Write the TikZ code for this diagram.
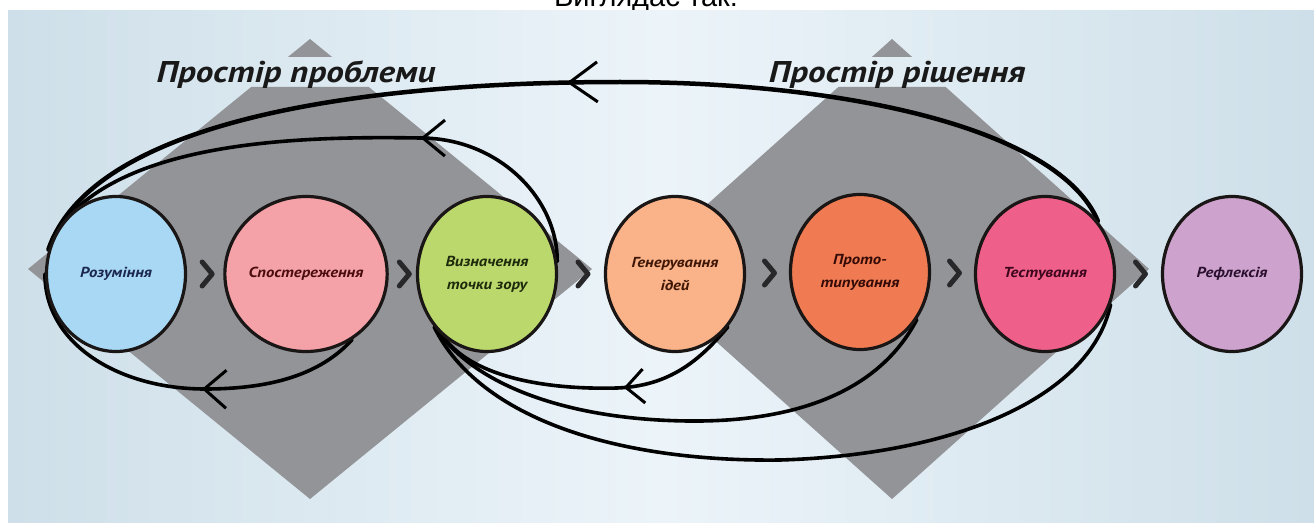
\documentclass[tikz,border=0pt]{standalone}
\usepackage{fontspec}
\usetikzlibrary{shapes.geometric,arrows.meta,decorations.markings,calc}
\newfontfamily\labelfont{PT Sans}[FakeStretch=1.15]
\newfontfamily\titlefont{PT Sans}[FakeStretch=1.17]
\newfontfamily\headfont{Liberation Sans}
\definecolor{panelside}{RGB}{206,223,233}
\definecolor{panelmid}{RGB}{236,244,249}
\definecolor{dgray}{RGB}{147,148,152}
\definecolor{outline}{RGB}{26,22,22}
\definecolor{chevcol}{RGB}{40,40,42}
\definecolor{cA}{RGB}{168,216,244}
\definecolor{cB}{RGB}{244,161,168}
\definecolor{cC}{RGB}{187,216,108}
\definecolor{cD}{RGB}{250,178,136}
\definecolor{cE}{RGB}{240,123,82}
\definecolor{cF}{RGB}{238,96,138}
\definecolor{cG}{RGB}{205,163,206}
\definecolor{tA}{RGB}{28,40,80}
\definecolor{tB}{RGB}{75,12,14}
\definecolor{tC}{RGB}{30,42,12}
\definecolor{tD}{RGB}{62,22,6}
\definecolor{tE}{RGB}{52,10,6}
\definecolor{tF}{RGB}{62,6,28}
\definecolor{tG}{RGB}{42,16,46}
\pgfdeclarelayer{back}
\pgfdeclarelayer{mid}
\pgfsetlayers{back,mid,main}
\begin{document}
\begin{tikzpicture}[x=1pt,y=-1pt,
  stage/.style={ellipse, draw=outline, line width=3.2pt, minimum width=139pt, minimum height=155pt,
    inner sep=0pt, align=center, font={\labelfont\bfseries\itshape\fontsize{14.5pt}{23pt}\selectfont}},
  chev/.style={draw=chevcol, line width=5pt, line cap=round, line join=round},
  loopline/.style={draw=black, line width=3.6pt, line cap=round},
  midarrow/.style n args={3}{postaction={decorate}, decoration={markings,
    mark=at position #1 with {\arrow{Straight Barb[length=#2,width=#3,line width=3pt]}}}},
  sectiontitle/.style={font={\titlefont\bfseries\itshape\fontsize{30pt}{32pt}\selectfont}, text=black!90, inner sep=0pt, anchor=base},
  heading/.style={font={\headfont\fontsize{29pt}{32pt}\selectfont}, text=black, inner sep=0pt, anchor=base}]
\useasboundingbox (0,0) rectangle (1314,524);
\clip (0,0) rectangle (1314,524);

\begin{pgfonlayer}{back}
\fill[white] (0,0) rectangle (1314,524);
\node[heading] (hdr) at (646,7) {Виглядає так:};
\shade[left color=panelside, right color=panelside, middle color=panelmid] (8,11) rectangle (1314,522);
\begin{scope}
  \clip (0,0) rectangle (1314,57) (0,87) rectangle (1314,524);
  \fill[dgray] (310,39) -- (592,269) -- (310,499) -- (28,269) -- cycle;
  \fill[dgray] (892,39) -- (1149,269) -- (892,499) -- (635,269) -- cycle;
\end{scope}
\node[sectiontitle] (t1) at (296,83) {Простір проблеми};
\node[sectiontitle] (t2) at (897,83) {Простір рішення};
\end{pgfonlayer}

\node[stage, fill=cA, text=tA] (c1) at (116,274) {Розуміння};
\node[stage, fill=cB, text=tB] (c2) at (306,274) {Спостереження};
\node[stage, fill=cC, text=tC] (c3) at (487,274) {Визначення\\точки зору};
\node[stage, fill=cD, text=tD] (c4) at (675,274) {Генерування\\ідей};
\node[stage, fill=cE, text=tE] (c5) at (860,272) {Прото-\\типування};
\node[stage, fill=cF, text=tF] (c6) at (1045,274) {Тестування};
\node[stage, fill=cG, text=tG] (c7) at (1232,274) {Рефлексія};

\foreach \a/\b in {c1/c2,c2/c3,c3/c4,c4/c5,c5/c6,c6/c7}
  \draw[chev] ($(\a.east)!0.5!(\b.west)+(2,0)$) ++(-5,-12) -- ++(10,12) -- ++(-10,12);

\begin{pgfonlayer}{mid}
\draw[loopline, line width=4.5pt, midarrow={0.5}{28pt}{40pt}]
  (c6.45) .. controls (1060,130) and (850,82) .. (620,82)
  .. controls (380,82) and (95,115) .. (c1.160);
\draw[loopline, midarrow={0.34}{22pt}{36pt}]
  (c3.10) .. controls (558,200) and (500,138) .. (420,138)
  .. controls (300,136) and (110,140) .. (c1.150);
\draw[loopline, midarrow={0.43}{22pt}{38pt}]
  (c2.-55) .. controls (320,375) and (270,389) .. (205,389)
  .. controls (120,389) and (45,345) .. (c1.180);
\draw[loopline, midarrow={0.39}{18pt}{34pt}]
  (c4.-45) .. controls (700,360) and (670,386) .. (617,388)
  .. controls (540,390) and (470,375) .. (c3.235);
\draw[loopline]
  (c5.-40) .. controls (880,390) and (800,420) .. (700,421)
  .. controls (580,422) and (480,390) .. (c3.230);
\draw[loopline]
  (c6.-25) .. controls (1090,400) and (950,455) .. (780,460)
  .. controls (620,462) and (480,420) .. (c3.225);
\end{pgfonlayer}
\end{tikzpicture}
\end{document}
